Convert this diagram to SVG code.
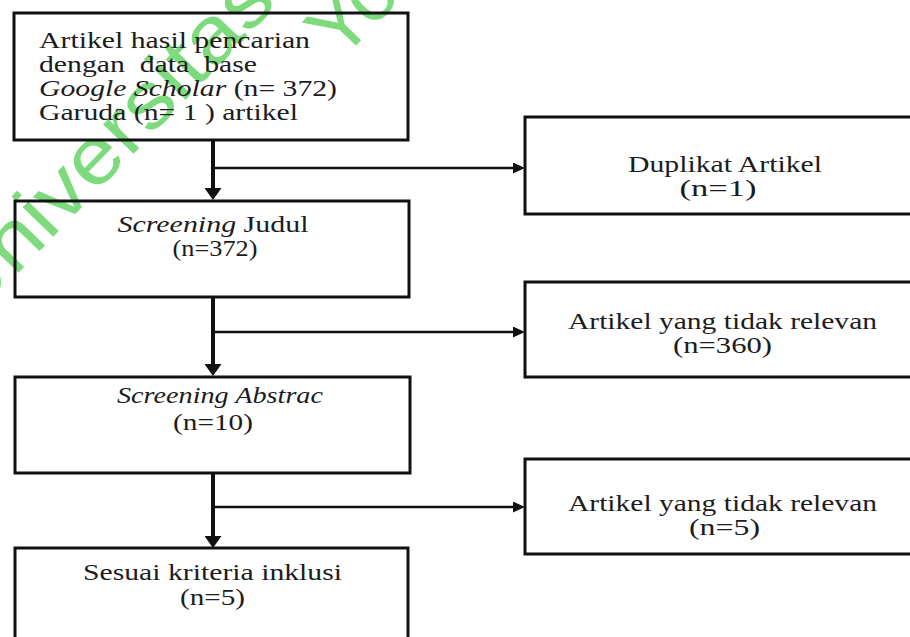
<svg xmlns="http://www.w3.org/2000/svg" width="910" height="637" viewBox="0 0 910 637">
<style>
.box{fill:none;stroke:#111;stroke-width:3}
.t{font-family:'Liberation Serif','Times New Roman',serif;font-size:24px;fill:#1c1c1c}
.c{text-anchor:middle}
.i{font-style:italic}
.wm{font-family:'Liberation Sans',Arial,sans-serif;font-size:80px;fill:#7ddb7d}
.v{stroke:#111;stroke-width:4;fill:none}
.h{stroke:#111;stroke-width:2.5;fill:none}
</style>
<defs>
<marker id="ad" markerUnits="userSpaceOnUse" markerWidth="12" markerHeight="17" viewBox="0 0 12 17" refX="0" refY="8.5" orient="auto"><path d="M0,0 L12,8.5 L0,17 z" fill="#111"/></marker>
<marker id="ar" markerUnits="userSpaceOnUse" markerWidth="12" markerHeight="11" viewBox="0 0 12 11" refX="0" refY="5.5" orient="auto"><path d="M0,0 L12,5.5 L0,11 z" fill="#111"/></marker>
</defs>
<rect x="0" y="0" width="910" height="637" fill="#fff"/>
<g id="watermark">
<text class="wm" x="-31" y="324" transform="rotate(-46 -31 324)" textLength="446" lengthAdjust="spacingAndGlyphs">Universitas</text>
<text class="wm" x="340" y="62" transform="rotate(-46 340 62)">Yo</text>
</g>
<g id="connectors">
<line class="v" x1="213" y1="140" x2="213" y2="188" marker-end="url(#ad)"/>
<line class="v" x1="213" y1="297" x2="213" y2="364" marker-end="url(#ad)"/>
<line class="v" x1="213" y1="473" x2="213" y2="536" marker-end="url(#ad)"/>
<line class="h" x1="213" y1="168" x2="513" y2="168" marker-end="url(#ar)"/>
<line class="h" x1="213" y1="332" x2="513" y2="332" marker-end="url(#ar)"/>
<line class="h" x1="213" y1="507" x2="513" y2="507" marker-end="url(#ar)"/>
</g>
<g id="n1">
<rect class="box" x="14" y="13" width="394" height="127"/>
<text class="t" x="39" y="48" textLength="271" lengthAdjust="spacingAndGlyphs">Artikel hasil pencarian</text>
<text class="t" x="39" y="72" textLength="218" lengthAdjust="spacingAndGlyphs" xml:space="preserve">dengan  data  base</text>
<text class="t" x="39" y="96" textLength="298" lengthAdjust="spacingAndGlyphs"><tspan class="i">Google Scholar</tspan> (n= 372)</text>
<text class="t" x="39" y="120" textLength="259" lengthAdjust="spacingAndGlyphs">Garuda (n= 1 ) artikel</text>
</g>
<g id="n2">
<rect class="box" x="15" y="201" width="394" height="96"/>
<text class="t c" x="213" y="232" textLength="191" lengthAdjust="spacingAndGlyphs"><tspan class="i">Screening</tspan> Judul</text>
<text class="t c" x="215" y="256" textLength="85" lengthAdjust="spacingAndGlyphs">(n=372)</text>
</g>
<g id="n3">
<rect class="box" x="15" y="377" width="395" height="96"/>
<text class="t c i" x="220" y="403" textLength="206" lengthAdjust="spacingAndGlyphs">Screening Abstrac</text>
<text class="t c" x="213" y="430" textLength="80" lengthAdjust="spacingAndGlyphs">(n=10)</text>
</g>
<g id="n4">
<rect class="box" x="15" y="548" width="393" height="120"/>
<text class="t c" x="212.5" y="580" textLength="259" lengthAdjust="spacingAndGlyphs">Sesuai kriteria inklusi</text>
<text class="t c" x="212.5" y="605" textLength="65" lengthAdjust="spacingAndGlyphs">(n=5)</text>
</g>
<g id="n5">
<rect class="box" x="525" y="117" width="400" height="97"/>
<text class="t c" x="725" y="172" textLength="194" lengthAdjust="spacingAndGlyphs">Duplikat Artikel</text>
<text class="t c" x="718" y="196" textLength="77" lengthAdjust="spacingAndGlyphs">(n=1)</text>
</g>
<g id="n6">
<rect class="box" x="525" y="282" width="400" height="95"/>
<text class="t c" x="722.5" y="329" textLength="309" lengthAdjust="spacingAndGlyphs">Artikel yang tidak relevan</text>
<text class="t c" x="722.5" y="353" textLength="99" lengthAdjust="spacingAndGlyphs">(n=360)</text>
</g>
<g id="n7">
<rect class="box" x="525" y="459" width="400" height="95"/>
<text class="t c" x="722.5" y="511" textLength="309" lengthAdjust="spacingAndGlyphs">Artikel yang tidak relevan</text>
<text class="t c" x="724.5" y="535" textLength="71" lengthAdjust="spacingAndGlyphs">(n=5)</text>
</g>
</svg>
